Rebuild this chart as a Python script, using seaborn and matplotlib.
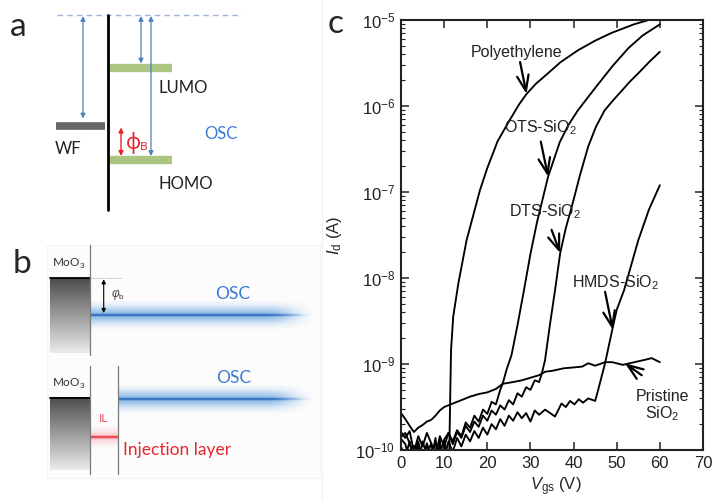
import numpy as np
import pandas as pd
import matplotlib
matplotlib.use("Agg")
import matplotlib.pyplot as plt
import seaborn as sns
from matplotlib.ticker import FixedLocator, NullFormatter, NullLocator
from matplotlib.patches import Rectangle

# ---------------------------------------------------------------------------
# Panel c: transfer curves, gate voltage Vgs (V) vs drain current Id (A)
# ---------------------------------------------------------------------------
vg_pe = [0, 1, 2, 3, 4, 5, 6, 7, 8, 8.5, 9, 9.6, 10.2, 10.7, 11.2, 11.4, 11.6,
         12.1, 13.3, 15.2, 18.3, 20, 22.4, 25, 27.4, 29.1, 31.3, 33.6, 37,
         41.1, 45, 48.8, 54, 58]
id_pe = [1.41e-10, 1.58e-10, 1.20e-10, 7.9e-11, 1.26e-10, 7.1e-11, 1.17e-10,
         7.6e-11, 1.38e-10, 6.3e-11, 1.32e-10, 7.1e-11, 1.26e-10, 6.3e-11,
         1.0e-10, 3.98e-10, 1.45e-9, 3.55e-9, 8.7e-9, 2.75e-8, 1.05e-7, 1.9e-7,
         3.9e-7, 6.6e-7, 1.05e-6, 1.38e-6, 1.82e-6, 2.29e-6, 3.24e-6, 4.47e-6,
         5.75e-6, 7.08e-6, 8.91e-6, 1.02e-5]

vg_ots = [0, 1, 2, 3, 4, 5, 6, 7, 8, 9, 10, 11, 12, 13, 14, 15, 16, 17, 18, 19,
          20, 21, 22, 23, 23.6, 24.5, 25.6, 27, 28.5, 30, 31.5, 34.1, 36.8,
          38.8, 41, 45, 49, 52.7, 56, 60]
id_ots = [1.62e-10, 1.38e-10, 1.66e-10, 9.5e-11, 1.45e-10, 1.10e-10, 1.58e-10,
          1.20e-10, 8.3e-11, 1.45e-10, 1.10e-10, 1.58e-10, 1.26e-10, 1.70e-10,
          1.45e-10, 2.09e-10, 1.82e-10, 2.51e-10, 2.14e-10, 2.95e-10, 2.63e-10,
          3.63e-10, 3.39e-10, 5.0e-10, 6.0e-10, 8.7e-10, 1.26e-9, 2.82e-9,
          7.2e-9, 1.9e-8, 4.4e-8, 1.51e-7, 3.8e-7, 6.0e-7, 8.9e-7, 1.62e-6,
          2.9e-6, 4.7e-6, 6.6e-6, 8.9e-6]

vg_dts = [0, 1, 2, 3, 4, 5, 6, 7, 8, 9, 10, 11, 12, 13, 14, 15, 16, 17, 18, 19,
          20, 21, 22, 23, 24, 25, 26, 27, 28, 29, 30, 31, 32, 32.6, 33.4, 34.5,
          35.7, 36.9, 38.2, 39.6, 41.5, 43.4, 45.2, 47.2, 49.2, 51.2, 53, 55,
          57.5, 60]
id_dts = [1.10e-10, 8.3e-11, 1.26e-10, 7.6e-11, 1.12e-10, 7.1e-11, 1.20e-10,
          7.9e-11, 1.26e-10, 8.9e-11, 1.32e-10, 1.58e-10, 1.17e-10, 1.62e-10,
          1.38e-10, 1.91e-10, 1.62e-10, 2.14e-10, 1.86e-10, 2.51e-10, 2.19e-10,
          2.88e-10, 2.57e-10, 3.31e-10, 2.95e-10, 3.8e-10, 3.39e-10, 4.57e-10,
          4.17e-10, 5.37e-10, 5.0e-10, 6.46e-10, 6.17e-10, 7.6e-10, 1.12e-9,
          2.82e-9, 7.2e-9, 1.95e-8, 3.8e-8, 6.8e-8, 1.58e-7, 3.39e-7, 5.75e-7,
          8.9e-7, 1.17e-6, 1.51e-6, 1.91e-6, 2.4e-6, 3.24e-6, 4.27e-6]

vg_hmds = [0, 1, 2, 3, 4, 5, 6, 7, 8, 9, 10, 11, 12, 13, 14, 15, 16, 17, 18, 19,
           20, 21, 22, 23, 24, 25, 26, 27, 28, 29, 30, 31, 32, 33.4, 35.7, 37.2,
           38.2, 39.2, 40.2, 41.2, 42.2, 43.4, 45, 45.7, 47.3, 48.8, 50, 51.7,
           55, 57.5, 60]
id_hmds = [1.35e-10, 1.17e-10, 7.6e-11, 1.12e-10, 7.1e-11, 1.26e-10, 8.7e-11,
           1.20e-10, 6.3e-11, 1.12e-10, 7.9e-11, 1.26e-10, 9.5e-11, 1.38e-10,
           1.10e-10, 1.51e-10, 1.26e-10, 1.66e-10, 1.38e-10, 1.82e-10, 1.51e-10,
           2.0e-10, 1.74e-10, 2.29e-10, 1.91e-10, 2.51e-10, 2.19e-10, 2.75e-10,
           2.34e-10, 2.69e-10, 2.14e-10, 2.88e-10, 2.57e-10, 2.95e-10, 2.45e-10,
           3.47e-10, 3.16e-10, 3.72e-10, 3.39e-10, 3.89e-10, 3.55e-10, 3.98e-10,
           3.72e-10, 5.0e-10, 1.02e-9, 2.29e-9, 4.27e-9, 7.2e-9, 2.75e-8,
           6.3e-8, 1.20e-7]

vg_pristine = [0, 1, 2, 3, 4, 5, 6, 7, 8, 9, 10, 12, 14, 16, 18, 20, 22, 23.6,
               26, 28, 30, 32, 33.4, 35, 37.7, 40, 42, 43.4, 45, 47.3, 49, 51.4,
               53, 56.6, 58.1, 60]
id_pristine = [2.69e-10, 2.29e-10, 1.91e-10, 1.62e-10, 1.82e-10, 1.95e-10,
               2.14e-10, 2.24e-10, 2.51e-10, 2.88e-10, 3.16e-10, 3.47e-10,
               3.8e-10, 4.17e-10, 4.47e-10, 4.68e-10, 5.13e-10, 5.89e-10,
               6.17e-10, 6.46e-10, 6.92e-10, 7.41e-10, 8.13e-10, 8.32e-10,
               8.91e-10, 9.12e-10, 9.33e-10, 1.02e-9, 9.55e-10, 1.05e-9, 1.05e-9,
               9.77e-10, 1.02e-9, 1.12e-9, 1.17e-9, 1.05e-9]

films = ["Polyethylene", "OTS-SiO2", "DTS-SiO2", "HMDS-SiO2", "Pristine SiO2"]
x_ticks = [0, 10, 20, 30, 40, 50, 60, 70]
y_decades = [1e-10, 1e-9, 1e-8, 1e-7, 1e-6, 1e-5]

# curve labels and the (tail, tip) of each pointer arrow, in data units
curve_labels = ["Polyethylene", "OTS-SiO$_2$", "DTS-SiO$_2$", "HMDS-SiO$_2$",
                "Pristine\nSiO$_2$"]
label_pos = [(26.8, 3.74e-6), (32.2, 5.0e-7), (33.4, 5.2e-8), (49.6, 7.9e-9),
             (60.6, 2.35e-10)]
arrow_tail = [(27.6, 3.24e-6), (32.4, 3.85e-7), (34.9, 3.63e-8), (47.3, 6.9e-9),
              (55.8, 7.4e-10)]
arrow_tip = [(29.1, 1.38e-6), (34.1, 1.51e-7), (36.9, 1.95e-8), (49.1, 2.5e-9),
             (51.9, 1.02e-9)]

# ---------------------------------------------------------------------------
# Panel a / b: energy-level schematics (levels in pixel rows of the canvas)
# ---------------------------------------------------------------------------
vacuum_level = 15
wf_level = 125.5
lumo_level = 67.5
homo_level = 160
moo3_top_levels = [278.3, 397.7]
osc_levels = [315, 399]
il_level = 437.3

sns.set_style("ticks")
plt.rcParams["font.family"] = ["Liberation Sans", "DejaVu Sans"]
plt.rcParams["mathtext.fontset"] = "custom"
plt.rcParams["mathtext.rm"] = "Liberation Sans"
plt.rcParams["mathtext.it"] = "Liberation Sans:italic"
plt.rcParams["mathtext.bf"] = "Liberation Sans:bold"
plt.rcParams["axes.unicode_minus"] = False

fig = plt.figure(figsize=(7.13, 5.0), dpi=100)
fig.patch.set_facecolor("white")

canvas = fig.add_axes([0, 0, 1, 1], zorder=0)
canvas.patch.set_alpha(0)

SANS = ["Lato", "DejaVu Sans"]
BLUE_ARROW = "#4f7fbf"
OSC_BLUE = "#3a79d6"


def glow_line(ax, x0, x1, y, core_rgb, glow_rgb, half, fade_from=None,
              glow_alpha=0.75, core_alpha=1.0, spread=0.6):
    w, h = 500, 81
    xs = np.linspace(x0, x1, w)
    ys = np.linspace(-half, half, h)
    fade = np.ones(w)
    if fade_from is not None:
        t = np.clip((xs - fade_from) / (x1 - fade_from), 0, 1)
        fade = 1 - t * t * (3 - 2 * t)
    g = np.exp(-(ys / (half * spread)) ** 2) * glow_alpha
    c = np.exp(-(ys / 1.1) ** 2) * core_alpha
    for rgb, prof in ((glow_rgb, g), (core_rgb, c)):
        img = np.zeros((h, w, 4))
        img[..., :3] = matplotlib.colors.to_rgb(rgb)
        img[..., 3] = prof[:, None] * fade[None, :]
        ax.imshow(img, extent=(x0, x1, y + half, y - half), aspect="auto",
                  interpolation="bilinear", zorder=3)


def gray_block(ax, x0, x1, y0, y1):
    h = 200
    shade = np.linspace(0.30, 0.92, h)
    img = np.repeat(shade[:, None], 2, axis=1)
    img = np.stack([img, img, img], axis=-1)
    ax.imshow(img, extent=(x0, x1, y1, y0), aspect="auto",
              interpolation="bilinear", zorder=2)


# faint separator and panel-b backdrop
canvas.plot([322, 322], [0, 500], color="#f0f0f0", lw=0.8, zorder=1)
canvas.add_patch(Rectangle((47, 245), 273, 233, facecolor="#fcfcfc",
                           edgecolor="#f4f4f4", lw=0.8, zorder=1))

# ---- panel a ----
canvas.text(18, 27, "a", fontsize=24, family=SANS, ha="center", va="center")
canvas.plot([57, 242], [vacuum_level, vacuum_level], color="#9fb6d6", lw=1.0,
            ls=(0, (4, 3)), zorder=2)
canvas.plot([108, 108], [vacuum_level, 210], color="black", lw=2.0, zorder=4)
canvas.plot([56, 105], [wf_level, wf_level], color="#676767", lw=5.5,
            solid_capstyle="butt", zorder=3)
for lvl in (lumo_level, homo_level):
    canvas.plot([110, 172], [lvl, lvl], color="#abc683", lw=6.0,
                solid_capstyle="butt", zorder=3)
arrow_kw = dict(arrowstyle="<|-|>", color=BLUE_ARROW, lw=0.9,
                mutation_scale=7, shrinkA=0, shrinkB=0)
canvas.annotate("", xy=(83, wf_level - 7), xytext=(83, vacuum_level + 1),
                arrowprops=arrow_kw, zorder=5)
canvas.annotate("", xy=(141, lumo_level - 4), xytext=(141, vacuum_level + 1),
                arrowprops=arrow_kw, zorder=5)
canvas.annotate("", xy=(151, homo_level - 4), xytext=(151, vacuum_level + 1),
                arrowprops=arrow_kw, zorder=5)
canvas.annotate("", xy=(121, homo_level - 4), xytext=(121, wf_level + 2),
                arrowprops=dict(arrowstyle="<|-|>", color="#e8242b", lw=1.0,
                                mutation_scale=7, shrinkA=0, shrinkB=0),
                zorder=5)
canvas.text(133, 143, "ϕ", fontsize=15, color="#e8242b",
            family=["Noto Sans", "DejaVu Sans"], ha="center", va="center")
canvas.text(144, 147, "B", fontsize=8.5, color="#e8242b", family=SANS,
            ha="center", va="center")
canvas.text(68, 149, "WF", fontsize=12, family=SANS, color="#222222",
            ha="center", va="center")
canvas.text(183, 88, "LUMO", fontsize=12, family=SANS, color="#222222",
            ha="center", va="center")
canvas.text(186, 184, "HOMO", fontsize=12, family=SANS, color="#222222",
            ha="center", va="center")
canvas.text(221, 134, "OSC", fontsize=12, family=SANS, color=OSC_BLUE,
            ha="center", va="center")

# ---- panel b ----
canvas.text(22, 264, "b", fontsize=24, family=SANS, ha="center", va="center")
# top: metal contact directly on the semiconductor
gray_block(canvas, 50, 90, moo3_top_levels[0], 353)
canvas.plot([50, 90], [moo3_top_levels[0]] * 2, color="black", lw=1.3, zorder=4)
canvas.plot([90, 90], [245, 355], color="#7a7a7a", lw=0.9, zorder=4)
canvas.plot([90, 121], [moo3_top_levels[0]] * 2, color="#9a9a9a", lw=0.6,
            ls=(0, (1.5, 1.5)), zorder=4)
canvas.annotate("", xy=(103.7, osc_levels[0] - 2),
                xytext=(103.7, moo3_top_levels[0] + 1),
                arrowprops=dict(arrowstyle="<|-|>", color="black", lw=0.8,
                                mutation_scale=6, shrinkA=0, shrinkB=0),
                zorder=5)
canvas.text(118, 294, r"$\varphi_\mathrm{b}$", fontsize=8.5, color="#444444",
            ha="center", va="center")
canvas.text(69, 264, "MoO$_3$", fontsize=8.5, family=SANS, color="#333333",
            ha="center", va="center")
glow_line(canvas, 90, 316, osc_levels[0], "#1b62b8", "#6aa6e2", 14,
          fade_from=266)
canvas.text(233, 294, "OSC", fontsize=12.5, family=SANS, color=OSC_BLUE,
            ha="center", va="center")

# bottom: contact with an injection interlayer
gray_block(canvas, 50, 90, moo3_top_levels[1], 470)
canvas.plot([50, 90], [moo3_top_levels[1]] * 2, color="black", lw=1.3, zorder=4)
canvas.plot([90, 90], [366, 474], color="#7a7a7a", lw=0.9, zorder=4)
canvas.plot([118.3, 118.3], [366, 474], color="#7a7a7a", lw=0.9, zorder=4)
canvas.text(69, 384, "MoO$_3$", fontsize=8.5, family=SANS, color="#333333",
            ha="center", va="center")
glow_line(canvas, 118.3, 316, osc_levels[1], "#1b62b8", "#6aa6e2", 14,
          fade_from=266)
canvas.text(234, 378, "OSC", fontsize=12.5, family=SANS, color=OSC_BLUE,
            ha="center", va="center")
glow_line(canvas, 90.5, 117.8, il_level, "#e4222b", "#f59aa3", 11,
          glow_alpha=0.5)
canvas.text(104, 419, "IL", fontsize=8.5, family=SANS, color="#e2555a",
            ha="center", va="center")
canvas.text(177, 450, "Injection layer", fontsize=12.5, family=SANS,
            color="#e8262b", ha="center", va="center")

# ---- panel c label ----
canvas.text(336, 24, "c", fontsize=24, family=SANS, ha="center", va="center")

canvas.set_xlim(0, 713)
canvas.set_ylim(500, 0)
canvas.axis("off")

# ---------------------------------------------------------------------------
# Panel c: transfer characteristics
# ---------------------------------------------------------------------------
frames = []
for name, vg, i_d in zip(films,
                         [vg_pe, vg_ots, vg_dts, vg_hmds, vg_pristine],
                         [id_pe, id_ots, id_dts, id_hmds, id_pristine]):
    frames.append(pd.DataFrame({"Vgs": vg, "Id": i_d, "film": name}))
curves = pd.concat(frames, ignore_index=True)

ax = fig.add_axes([401 / 713, 50 / 500, 302 / 713, 430 / 500], zorder=2)
ax.set_yscale("log")
sns.lineplot(data=curves, x="Vgs", y="Id", units="film", estimator=None,
             sort=False, color="black", linewidth=1.35, legend=False, ax=ax)

ax.set_xlim(0, 70)
ax.set_ylim(y_decades[0], y_decades[-1])
ax.set_xticks(x_ticks)
ax.xaxis.set_minor_locator(NullLocator())
ax.yaxis.set_major_locator(FixedLocator(y_decades))
minor_y = [m * d for d in y_decades[:-1] for m in range(2, 10)]
ax.yaxis.set_minor_locator(FixedLocator(minor_y))
ax.yaxis.set_minor_formatter(NullFormatter())
ax.tick_params(which="both", direction="in", top=True, right=True,
               labelsize=12, colors="#222222")
ax.tick_params(which="major", length=5.5, width=1.1, pad=4)
ax.tick_params(which="minor", length=3, width=0.8)
for sp in ax.spines.values():
    sp.set_linewidth(1.5)
    sp.set_color("#222222")

ax.set_xlabel(r"$V_\mathrm{gs}$ (V)", fontsize=12)
ax.set_ylabel(r"$I_\mathrm{d}$ (A)", fontsize=12)
ax.xaxis.set_label_coords(0.513, -0.060)
ax.yaxis.set_label_coords(-0.19, 0.5)

for text, pos, tail, tip in zip(curve_labels, label_pos, arrow_tail, arrow_tip):
    ax.text(pos[0], pos[1], text, fontsize=11.5, ha="center", va="baseline",
            multialignment="center", color="#222222", linespacing=1.0)
    ax.annotate("", xy=tip, xytext=tail,
                arrowprops=dict(arrowstyle="->,head_length=0.8,head_width=0.3",
                                lw=1.6, color="black", shrinkA=0, shrinkB=0,
                                mutation_scale=14))

fig.savefig("out.png", dpi=100, facecolor="white")
